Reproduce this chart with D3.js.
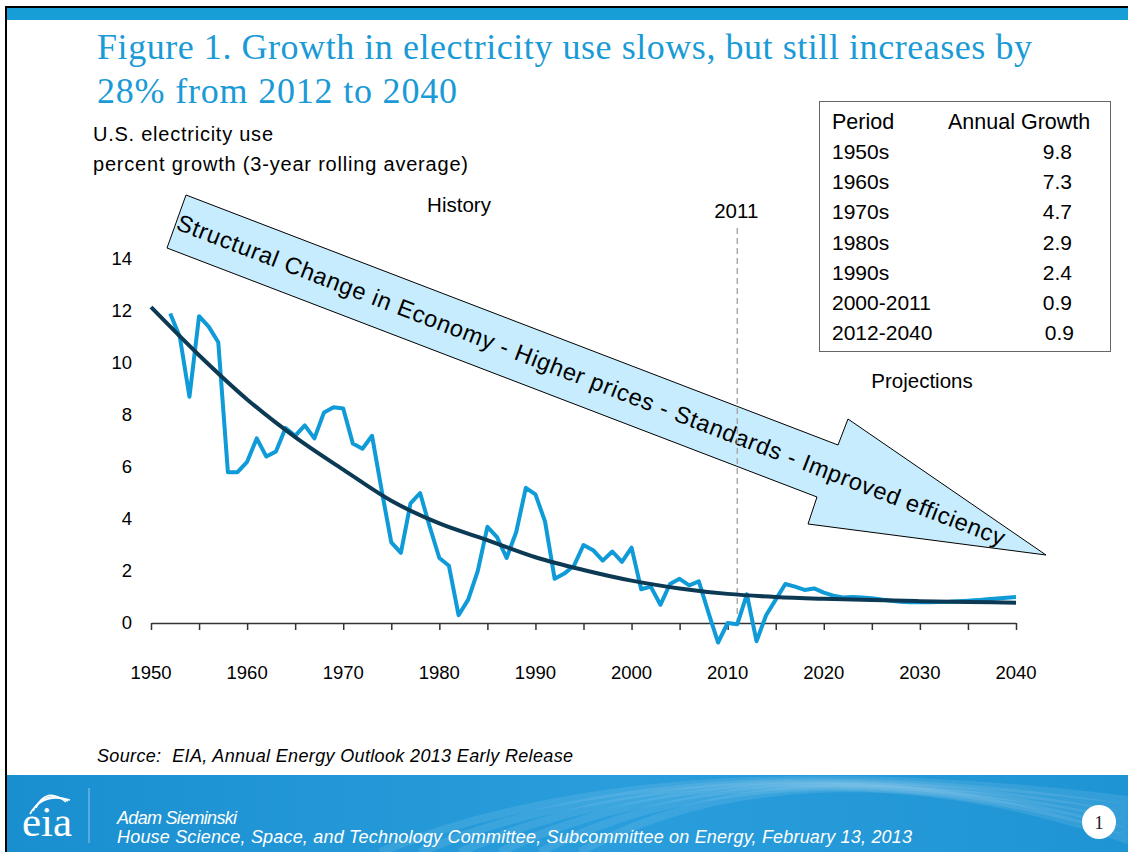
<!DOCTYPE html>
<html>
<head>
<meta charset="utf-8">
<script src="https://cdn.jsdelivr.net/npm/d3@7"></script>
<style>
  body { margin: 0; background: #fff; }
  svg { display: block; }
</style>
</head>
<body>
<div id="chart"></div>
<script>
// historical + projected growth, 3-year rolling average (percent)
var years = d3.range(1952, 2041);
var growth = [
  11.9, 11.0, 8.7, 11.8, 11.4, 10.8, 5.8, 5.8, 6.2, 7.1,
  6.4, 6.6, 7.5, 7.2, 7.6, 7.1, 8.1, 8.3, 8.25, 6.9,
  6.7, 7.2, 5.1, 3.1, 2.7, 4.6, 5.0, 3.7, 2.5, 2.2,
  0.3, 0.9, 2.0, 3.7, 3.3, 2.5, 3.5, 5.2, 4.95, 3.9,
  1.7, 1.9, 2.2, 3.0, 2.8, 2.4, 2.75, 2.35, 2.9, 1.3,
  1.4, 0.7, 1.5, 1.7, 1.45, 1.6, 0.4, -0.75, 0.0, -0.05,
  1.1, -0.7, 0.3, 0.9, 1.5, 1.4, 1.27, 1.33, 1.17, 1.05,
  0.98, 1.0, 0.98, 0.95, 0.9, 0.86, 0.82, 0.8, 0.8, 0.8,
  0.81, 0.82, 0.84, 0.86, 0.88, 0.91, 0.94, 0.97, 1.0
];

// trend curve every 5 years
var trendYears = d3.range(1950, 2041, 5);
var trend = [12.15, 10.3, 8.6, 7.15, 5.9, 4.7, 3.83, 3.19, 2.53, 2.04,
             1.63, 1.33, 1.12, 1.0, 0.93, 0.88, 0.84, 0.81, 0.78];

var yTicks = [0, 2, 4, 6, 8, 10, 12, 14];
var xTicks = d3.range(1950, 2041, 5);
var xLabels = d3.range(1950, 2041, 10);

var periods = ["1950s", "1960s", "1970s", "1980s", "1990s", "2000-2011", "2012-2040"];
var annualGrowth = ["9.8", "7.3", "4.7", "2.9", "2.4", "0.9", "0.9"];

var width = 1128, height = 852;
var sans = "Arial, 'Liberation Sans', sans-serif";
var serif = "'Times New Roman', 'Liberation Serif', serif";

var svg = d3.select("#chart")
    .append("svg")
    .attr("width", width)
    .attr("height", height);

var defs = svg.append("defs");
var grad = defs.append("linearGradient")
    .attr("id", "footGrad")
    .attr("x1", "0").attr("y1", "0").attr("x2", "1").attr("y2", "0");
grad.append("stop").attr("offset", "0%").attr("stop-color", "#1a8fd0");
grad.append("stop").attr("offset", "55%").attr("stop-color", "#2a9edc");
grad.append("stop").attr("offset", "100%").attr("stop-color", "#1f94d4");

// slide frame
svg.append("rect").attr("x", 6).attr("y", 8).attr("width", width - 6).attr("height", 12).attr("fill", "#179ed6");
svg.append("line").attr("x1", 5).attr("x2", width).attr("y1", 7).attr("y2", 7).attr("stroke", "#000").attr("stroke-width", 2);
svg.append("line").attr("x1", 6).attr("x2", 6).attr("y1", 6).attr("y2", height).attr("stroke", "#000").attr("stroke-width", 2);

// title
var title = svg.append("text")
    .attr("font-family", serif)
    .attr("font-size", 36)
    .attr("fill", "#1a9ad6");
title.append("tspan").attr("x", 97).attr("y", 59)
    .attr("textLength", 935).attr("lengthAdjust", "spacing")
    .text("Figure 1. Growth in electricity use slows, but still increases by");
title.append("tspan").attr("x", 97).attr("y", 103)
    .attr("textLength", 360).attr("lengthAdjust", "spacing")
    .text("28% from 2012 to 2040");

svg.append("text").attr("x", 93).attr("y", 141).attr("font-family", sans).attr("font-size", 20)
    .attr("textLength", 180).attr("lengthAdjust", "spacing")
    .text("U.S. electricity use");
svg.append("text").attr("x", 93).attr("y", 171).attr("font-family", sans).attr("font-size", 20)
    .attr("textLength", 375).attr("lengthAdjust", "spacing")
    .text("percent growth (3-year rolling average)");

// scales
var x = d3.scaleLinear().domain([1950, 2040]).range([151, 1016]);
var y = d3.scaleLinear().domain([0, 14]).range([623, 259]);

// arrow (drawn behind the lines)
var ang = 21;
var arrowPts = [[186, 195], [838, 445], [848, 419], [1046, 555], [808, 524], [817, 497], [167, 248]];
svg.append("path")
    .attr("d", d3.line()(arrowPts) + "Z")
    .attr("fill", "#c6ecfd")
    .attr("stroke", "#000")
    .attr("stroke-width", 1);
svg.append("text")
    .attr("transform", "translate(175,229) rotate(" + ang + ")")
    .attr("font-family", sans)
    .attr("font-size", 23.5)
    .attr("fill", "#000")
    .attr("textLength", 885)
    .attr("lengthAdjust", "spacing")
    .text("Structural Change in Economy - Higher prices - Standards - Improved efficiency");

// 2011 marker
svg.append("line")
    .attr("x1", x(2011)).attr("x2", x(2011))
    .attr("y1", 228).attr("y2", y(0))
    .attr("stroke", "#aaa").attr("stroke-width", 1.5)
    .attr("stroke-dasharray", "6,4");
svg.append("text").attr("x", x(2011) - 1).attr("y", 218).attr("text-anchor", "middle")
    .attr("font-family", sans).attr("font-size", 20.5).text("2011");
svg.append("text").attr("x", 459).attr("y", 212).attr("text-anchor", "middle")
    .attr("font-family", sans).attr("font-size", 20.5).text("History");
svg.append("text").attr("x", 922).attr("y", 388).attr("text-anchor", "middle")
    .attr("font-family", sans).attr("font-size", 20.5).text("Projections");

// y labels
svg.append("g").selectAll("text")
    .data(yTicks)
    .join("text")
    .attr("x", 132)
    .attr("y", function(d) { return y(d); })
    .attr("dy", "0.35em")
    .attr("text-anchor", "end")
    .attr("font-family", sans)
    .attr("font-size", 18.5)
    .text(function(d) { return d; });

// x axis
var xAxis = svg.append("g")
    .attr("transform", "translate(0," + y(0) + ")")
    .call(d3.axisBottom(x).tickValues(xTicks).tickSize(7).tickFormat("").tickSizeOuter(0));
xAxis.select(".domain").attr("stroke", "#333").attr("stroke-width", 1.5);
xAxis.selectAll(".tick line").attr("stroke", "#333").attr("stroke-width", 1.5);

svg.append("g").selectAll("text")
    .data(xLabels)
    .join("text")
    .attr("x", function(d) { return x(d); })
    .attr("y", 679)
    .attr("text-anchor", "middle")
    .attr("font-family", sans)
    .attr("font-size", 18.5)
    .text(function(d) { return d; });

// growth line
var line = d3.line()
    .x(function(d, i) { return x(years[i]); })
    .y(function(d) { return y(d); });
svg.append("path")
    .datum(growth)
    .attr("d", line)
    .attr("fill", "none")
    .attr("stroke", "#0f9ad8")
    .attr("stroke-width", 4)
    .attr("stroke-linejoin", "round");

// trend line
var trendLine = d3.line()
    .x(function(d, i) { return x(trendYears[i]); })
    .y(function(d) { return y(d); })
    .curve(d3.curveMonotoneX);
svg.append("path")
    .datum(trend)
    .attr("d", trendLine)
    .attr("fill", "none")
    .attr("stroke", "#0c3a55")
    .attr("stroke-width", 4);

// growth table
svg.append("rect")
    .attr("x", 819.5).attr("y", 101.5)
    .attr("width", 291).attr("height", 250)
    .attr("fill", "#fff")
    .attr("stroke", "#666").attr("stroke-width", 1);
svg.append("text").attr("x", 832).attr("y", 129).attr("font-family", sans).attr("font-size", 21.5).text("Period");
svg.append("text").attr("x", 948).attr("y", 129).attr("font-family", sans).attr("font-size", 21.5).text("Annual Growth");
var rows = svg.append("g").selectAll("g")
    .data(periods)
    .join("g")
    .attr("transform", function(d, i) { return "translate(0," + (159 + i * 30.2) + ")"; });
rows.append("text")
    .attr("x", 832)
    .attr("font-family", sans).attr("font-size", 21)
    .text(function(d) { return d; });
rows.append("text")
    .attr("x", function(d, i) { return i == 6 ? 1074 : 1072; })
    .attr("text-anchor", "end")
    .attr("font-family", sans).attr("font-size", 21)
    .text(function(d, i) { return annualGrowth[i]; });

// source
svg.append("text").attr("x", 97).attr("y", 762)
    .attr("font-family", sans).attr("font-size", 18).attr("font-style", "italic")
    .attr("textLength", 476).attr("lengthAdjust", "spacing")
    .text("Source:\u00a0 EIA, Annual Energy Outlook 2013 Early Release");

// footer band
var foot = svg.append("g");
foot.append("rect").attr("x", 7).attr("y", 775).attr("width", width - 7).attr("height", height - 775).attr("fill", "url(#footGrad)");
[0, 1, 2, 3, 4, 5].forEach(function(k) {
  foot.append("path")
      .attr("d", "M" + (380 + k * 40) + ",852 C" + (560 + k * 30) + ",780 " + (800 + k * 20) + ",760 " + (1128) + "," + (800 + k * 8))
      .attr("fill", "none").attr("stroke", "#fff").attr("stroke-opacity", 0.09).attr("stroke-width", 8);
});
foot.append("line").attr("x1", 89).attr("x2", 89).attr("y1", 788).attr("y2", 843)
    .attr("stroke", "#fff").attr("stroke-opacity", 0.5).attr("stroke-width", 1);
// eia logo
foot.append("text").attr("x", 22).attr("y", 836)
    .attr("font-family", serif).attr("font-size", 43).attr("fill", "#fff")
    .attr("textLength", 50).text("eia");
[0, 1, 2].forEach(function(k) {
  foot.append("path")
      .attr("d", "M" + (30 + k * 3) + "," + (814 - k * 3) + " Q" + (42 + k * 2) + "," + (792 - k * 3) + " " + (70 - k * 2) + "," + (800 + k * 1))
      .attr("fill", "none").attr("stroke", "#fff").attr("stroke-width", 1.6);
});
foot.append("text").attr("x", 117).attr("y", 824)
    .attr("font-family", sans).attr("font-size", 18).attr("font-style", "italic").attr("fill", "#fff")
    .attr("textLength", 120).attr("lengthAdjust", "spacing")
    .text("Adam Sieminski");
foot.append("text").attr("x", 117).attr("y", 843)
    .attr("font-family", sans).attr("font-size", 18).attr("font-style", "italic").attr("fill", "#fff")
    .attr("textLength", 795).attr("lengthAdjust", "spacing")
    .text("House Science, Space, and Technology Committee, Subcommittee on Energy, February 13, 2013");
foot.append("circle").attr("cx", 1099).attr("cy", 822).attr("r", 17).attr("fill", "#fff");
foot.append("text").attr("x", 1099).attr("y", 829).attr("text-anchor", "middle")
    .attr("font-family", serif).attr("font-size", 19).attr("fill", "#222").text("1");
</script>
</body>
</html>
